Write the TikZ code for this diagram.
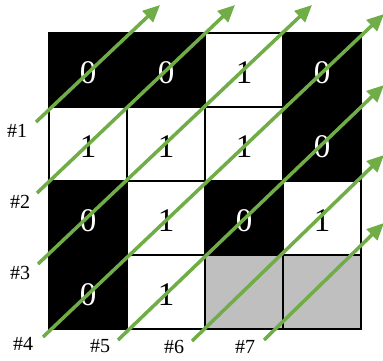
\documentclass[tikz,border=0pt]{standalone}
\usepackage{fontspec}
\setmainfont{Liberation Serif}
\usetikzlibrary{arrows.meta}
\definecolor{arrgreen}{HTML}{70AD47}
\definecolor{cellgray}{HTML}{BFBFBF}
\begin{document}
\begin{tikzpicture}[x=1pt,y=-1pt,
  cell/.style={draw=black,line width=2pt,minimum width=78pt,minimum height=74pt,inner sep=0pt,anchor=north west,font=\fontsize{33}{33}\selectfont,text depth=0pt},
  bk/.style={cell,fill=black,text=white},
  wt/.style={cell,fill=white,text=black},
  gy/.style={cell,fill=cellgray},
  diag/.style={draw=arrgreen,line width=3.5pt,-{Triangle[length=17pt,width=15pt]}},
  lab/.style={font=\fontsize{20}{20}\selectfont,inner sep=0pt}]
\useasboundingbox (0,0) rectangle (383,360);
% row 1
\node[bk] (c11) at (48,32) {\raisebox{-5pt}{0}};
\node[bk] (c12) at (126,32) {\raisebox{-5pt}{0}};
\node[wt] (c13) at (204,32) {\raisebox{-5pt}{1}};
\node[bk] (c14) at (282,32) {\raisebox{-5pt}{0}};
% row 2
\node[wt] (c21) at (48,106) {\raisebox{-5pt}{1}};
\node[wt] (c22) at (126,106) {\raisebox{-5pt}{1}};
\node[wt] (c23) at (204,106) {\raisebox{-5pt}{1}};
\node[bk] (c24) at (282,106) {\raisebox{-5pt}{0}};
% row 3
\node[bk] (c31) at (48,180) {\raisebox{-5pt}{0}};
\node[wt] (c32) at (126,180) {\raisebox{-5pt}{1}};
\node[bk] (c33) at (204,180) {\raisebox{-5pt}{0}};
\node[wt] (c34) at (282,180) {\raisebox{-5pt}{1}};
% row 4
\node[bk] (c41) at (48,254) {\raisebox{-5pt}{0}};
\node[wt] (c42) at (126,254) {\raisebox{-5pt}{1}};
\node[gy] (c43) at (204,254) {};
\node[gy] (c44) at (282,254) {};
% labels
\node[lab] (l1) at (17,131) {\#1};
\node[lab] (l2) at (20,202) {\#2};
\node[lab] (l3) at (20,273) {\#3};
\node[lab] (l4) at (23,344) {\#4};
\node[lab] (l5) at (100,346) {\#5};
\node[lab] (l6) at (174,347) {\#6};
\node[lab] (l7) at (245,347) {\#7};
% arrow endpoints
\coordinate (s1) at (36,122);  \coordinate (e1) at (160,5);
\coordinate (s2) at (37,193);  \coordinate (e2) at (235,5);
\coordinate (s3) at (38,264);  \coordinate (e3) at (312,5);
\coordinate (s4) at (43,337);  \coordinate (e4) at (384,14);
\coordinate (s5) at (118,340); \coordinate (e5) at (384,85);
\coordinate (s6) at (192,341); \coordinate (e6) at (384,155);
\coordinate (s7) at (264,340); \coordinate (e7) at (384,223);
\foreach \i in {1,...,7} {\draw[diag] (s\i) -- (e\i);}
\end{tikzpicture}
\end{document}
